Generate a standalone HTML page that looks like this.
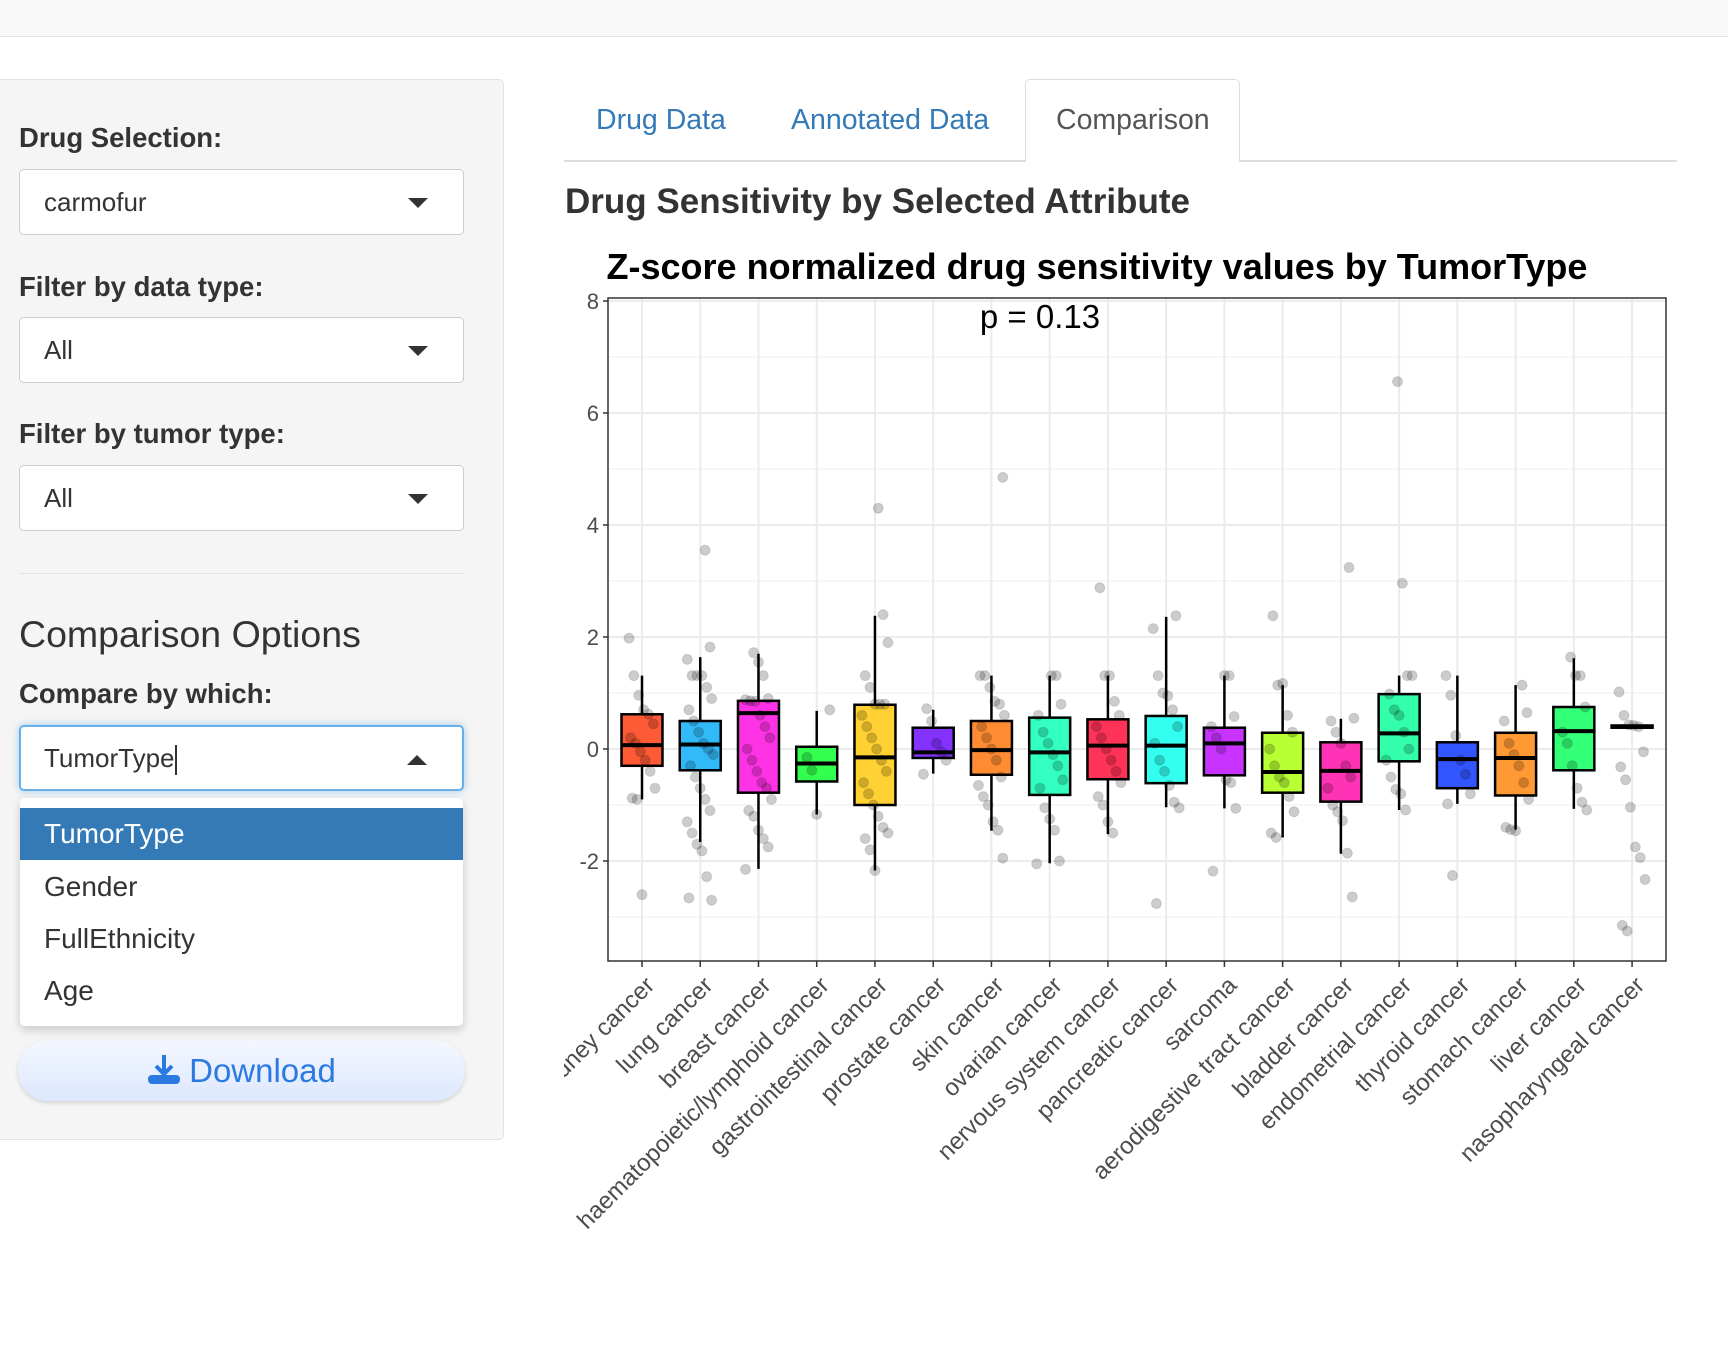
<!DOCTYPE html>
<html><head><meta charset="utf-8">
<style>
*{box-sizing:border-box;margin:0;padding:0}
body{width:1728px;height:1352px;background:#fff;font-family:"Liberation Sans",sans-serif;color:#333;position:relative;overflow:hidden}
.abs{position:absolute}
.topbar{left:0;top:0;width:1728px;height:37px;background:#f8f8f8;border-bottom:1px solid #e3e3e3}
.sidebar{left:-4px;top:79px;width:508px;height:1061px;background:#f5f5f5;border:1px solid #e3e3e3;border-radius:5px}
.lbl{font-weight:bold;font-size:27.5px;color:#333;left:19px}
.sel{left:19px;width:445px;height:66px;background:#fff;border:1px solid #ccc;border-radius:5px;font-size:26px;padding-left:24px;line-height:64px;color:#333}
.caret{position:absolute;right:35px;top:28px;width:0;height:0;border-left:10px solid transparent;border-right:10px solid transparent;border-top:10px solid #333}
.caretup{position:absolute;right:35px;top:28px;width:0;height:0;border-left:10px solid transparent;border-right:10px solid transparent;border-bottom:10px solid #333}
.opt{left:20px;width:443px;height:52px;font-size:28px;padding-left:24px;line-height:52px;color:#333}
.tab{top:104px;font-size:28.5px;color:#337ab7}
</style></head><body>
<div class="abs topbar"></div>
<div class="abs sidebar"></div>
<div class="abs lbl" style="top:122px">Drug Selection:</div>
<div class="abs sel" style="top:169px">carmofur<span class="caret"></span></div>
<div class="abs lbl" style="top:271px">Filter by data type:</div>
<div class="abs sel" style="top:317px">All<span class="caret"></span></div>
<div class="abs lbl" style="top:418px">Filter by tumor type:</div>
<div class="abs sel" style="top:465px">All<span class="caret"></span></div>
<div class="abs" style="left:19px;top:573px;width:445px;height:1px;background:#e3e3e3"></div>
<div class="abs" style="left:19px;top:613px;font-size:37.5px;color:#333">Comparison Options</div>
<div class="abs lbl" style="top:678px">Compare by which:</div>
<div class="abs sel" style="top:725px;border:2px solid #66afe9;box-shadow:0 0 8px rgba(102,175,233,.6);padding-left:23px;line-height:62px">TumorType<span style="display:inline-block;width:2px;height:30px;background:#333;vertical-align:middle"></span><span class="caretup"></span></div>
<div class="abs" style="left:20px;top:798px;width:443px;height:228px;background:#fff;border-radius:5px;box-shadow:0 4px 10px rgba(0,0,0,.18)"></div>
<div class="abs opt" style="top:808px;background:#337ab7;color:#fff">TumorType</div>
<div class="abs opt" style="top:861px">Gender</div>
<div class="abs opt" style="top:913px">FullEthnicity</div>
<div class="abs opt" style="top:965px">Age</div>
<div class="abs" style="left:18px;top:1040px;width:447px;height:61px;border-radius:31px;background:linear-gradient(#f4f7ff,#dde8fd);box-shadow:0 2px 4px rgba(0,0,0,.15);text-align:center;font-size:33px;line-height:61px;color:#2a7ae2"><svg width="34" height="32" viewBox="0 0 34 32" style="vertical-align:-3px;margin-right:8px"><path d="M17 2v18M9 13l8 8 8-8" stroke="#2a7ae2" stroke-width="4" fill="none"/><rect x="1" y="22" width="32" height="9" rx="4" fill="#2a7ae2"/></svg>Download</div>

<div class="abs" style="left:564px;top:160px;width:1113px;height:2px;background:#ddd"></div>
<div class="abs" style="left:1025px;top:79px;width:215px;height:83px;background:#fff;border:1px solid #ddd;border-bottom:none;border-radius:5px 5px 0 0"></div>
<div class="abs tab" style="left:596px">Drug Data</div>
<div class="abs tab" style="left:791px">Annotated Data</div>
<div class="abs tab" style="left:1056px;color:#555">Comparison</div>
<div class="abs" style="left:565px;top:182px;font-size:35px;font-weight:bold;color:#333">Drug Sensitivity by Selected Attribute</div>

<svg class="abs" style="left:564px;top:220px" width="1164" height="1132" viewBox="564 220 1164 1132" id="chart"></svg>
<script>
const categories=["kidney cancer","lung cancer","breast cancer","haematopoietic/lymphoid cancer","gastrointestinal cancer","prostate cancer","skin cancer","ovarian cancer","nervous system cancer","pancreatic cancer","sarcoma","aerodigestive tract cancer","bladder cancer","endometrial cancer","thyroid cancer","stomach cancer","liver cancer","nasopharyngeal cancer"];
const q1=[-0.3,-0.38,-0.78,-0.58,-1.0,-0.16,-0.46,-0.82,-0.54,-0.61,-0.47,-0.78,-0.94,-0.22,-0.7,-0.83,-0.38,0.38];
const medians=[0.07,0.08,0.64,-0.26,-0.15,-0.06,-0.02,-0.06,0.06,0.06,0.1,-0.41,-0.39,0.28,-0.18,-0.16,0.32,0.4];
const q3=[0.62,0.5,0.86,0.04,0.79,0.38,0.5,0.56,0.53,0.59,0.38,0.29,0.12,0.98,0.12,0.29,0.75,0.42];
const whiskerLow=[-0.9,-1.66,-2.14,-1.17,-2.17,-0.44,-1.46,-2.04,-1.52,-1.04,-1.06,-1.58,-1.87,-1.09,-0.98,-1.44,-1.07,0.38];
const whiskerHigh=[1.31,1.64,1.7,0.68,2.38,0.7,1.31,1.31,1.31,2.36,1.31,1.14,0.54,1.31,1.31,1.14,1.62,0.42];
const fills=["#fe5a36","#32b9f8","#ff33e6","#33ff4f","#ffd133","#8433ff","#ff8c33","#33ffc1","#ff3358","#33fff0","#c833ff","#b8ff33","#ff33b5","#33ffaa","#3355ff","#ff9933","#33ff77","#222222"];
const points=[
[1.98,1.31,0.96,0.7,0.62,0.45,0.2,0.1,-0.05,-0.2,-0.4,-0.7,-0.88,-0.9,-2.6],
[3.55,1.82,1.6,1.31,1.31,1.31,1.1,0.9,0.7,0.5,0.3,0.1,0,-0.1,-0.3,-0.5,-0.7,-0.9,-1.1,-1.3,-1.5,-1.7,-1.82,-2.28,-2.7,-2.66],
[1.72,1.55,1.31,0.9,0.88,0.86,0.85,0.6,0.4,0.2,0,-0.2,-0.4,-0.6,-0.7,-0.9,-1.1,-1.2,-1.45,-1.6,-1.75,-2.15],
[0.7,-0.15,-0.38,-1.17],
[4.3,2.4,1.9,1.31,1.1,0.8,0.8,0.8,0.6,0.4,0.2,0,-0.2,-0.4,-0.6,-0.8,-1.0,-1.2,-1.4,-1.5,-1.6,-1.8,-2.17],
[0.72,0.5,0.1,-0.05,-0.2,-0.45],
[4.85,1.31,1.31,1.1,0.85,0.8,0.6,0.4,0.2,0,-0.2,-0.5,-0.65,-0.85,-1.0,-1.3,-1.45,-1.95],
[1.31,1.31,0.8,0.6,0.3,0.1,-0.1,-0.3,-0.55,-0.7,-1.05,-1.25,-1.45,-2.0,-2.05],
[2.88,1.31,1.31,0.85,0.6,0.4,0.2,0,-0.2,-0.4,-0.6,-0.85,-1.0,-1.3,-1.5],
[2.38,2.15,1.31,1.0,0.95,0.7,0.4,0.1,-0.2,-0.4,-0.65,-0.95,-1.05,-2.76],
[1.31,1.31,0.58,0.4,0.2,0,-0.55,-0.6,-1.06,-2.18],
[2.38,1.14,1.17,0.6,0.3,0.0,-0.3,-0.5,-0.6,-0.85,-1.12,-1.5,-1.58],
[3.24,0.55,0.5,0.3,0.1,-0.3,-0.5,-0.7,-1.0,-1.12,-1.28,-1.86,-2.64],
[6.56,2.96,1.31,1.31,0.98,0.7,0.6,0.3,0,-0.2,-0.5,-0.72,-0.8,-1.09],
[1.31,0.96,0.24,-0.2,-0.45,-0.8,-0.98,-2.26],
[1.14,0.65,0.5,0.1,-0.1,-0.3,-0.6,-0.9,-1.4,-1.44,-1.46],
[1.64,1.31,1.31,0.75,0.3,0.1,-0.3,-0.7,-0.95,-1.09],
[1.02,0.6,0.43,0.42,0.4,-0.05,-0.32,-0.55,-1.04,-1.75,-1.94,-2.33,-3.15,-3.25]];
const yTicks=[-2,0,2,4,6,8];
const yMinor=[-3,-1,1,3,5,7];
const titleText="Z-score normalized drug sensitivity values by TumorType";
const pText="p = 0.13";

const NS="http://www.w3.org/2000/svg";
const svg=document.getElementById('chart');
const P={l:608,r:1666,t:298,b:961};
const Y0=749,YU=56;
function yScale(v){return Y0-YU*v;}
function xScale(i){return 642+i*58.24;}
function mk(tag,attrs){const e=document.createElementNS(NS,tag);for(const k in attrs)e.setAttribute(k,attrs[k]);svg.appendChild(e);return e;}

let e=mk('rect',{x:P.l,y:P.t,width:P.r-P.l,height:P.b-P.t,fill:'#fff'});


yMinor.forEach(v=>{const g=mk('line',{x1:P.l,x2:P.r,y1:yScale(v),y2:yScale(v),stroke:'#f4f4f4','stroke-width':1.5});

});
yTicks.forEach(v=>{const g=mk('line',{x1:P.l,x2:P.r,y1:yScale(v),y2:yScale(v),stroke:'#ebebeb','stroke-width':2});


const tk=mk('line',{x1:P.l-5,x2:P.l,y1:yScale(v),y2:yScale(v),stroke:'#333','stroke-width':1.5});


const t=mk('text',{x:P.l-9,y:yScale(v)+8,'text-anchor':'end','font-size':22,fill:'#4d4d4d','font-family':'Liberation Sans, sans-serif'});
t.textContent=v;

});
categories.forEach((c,i)=>{const g=mk('line',{x1:xScale(i),x2:xScale(i),y1:P.t,y2:P.b,stroke:'#ebebeb','stroke-width':2});

});

const bw=41;
categories.forEach((c,i)=>{
 const x=xScale(i);
 const w=mk('line',{x1:x,x2:x,y1:yScale(whiskerHigh[i]),y2:yScale(whiskerLow[i]),stroke:'#000','stroke-width':2.5});
 
 
 const b=mk('rect',{x:x-bw/2,y:yScale(q3[i]),width:bw,height:Math.max(1,yScale(q1[i])-yScale(q3[i])),fill:fills[i],stroke:'#000','stroke-width':2.5});
 
 
 const m=mk('line',{x1:x-bw/2,x2:x+bw/2,y1:yScale(medians[i]),y2:yScale(medians[i]),stroke:'#000','stroke-width':4});
 
 
});
points.forEach((arr,i)=>{arr.forEach((v,j)=>{
 const jit=(((j*37+i*11)%17)/16-0.5)*26;
 const p=mk('circle',{cx:xScale(i)+jit,cy:yScale(v),r:5,fill:'rgba(0,0,0,0.2)',stroke:'rgba(0,0,0,0.12)'});
 
 
});});

e=mk('rect',{x:P.l,y:P.t,width:P.r-P.l,height:P.b-P.t,fill:'none',stroke:'#333','stroke-width':1.5});


categories.forEach((c,i)=>{const x=xScale(i);
 const tk=mk('line',{x1:x,x2:x,y1:P.b,y2:P.b+6,stroke:'#333','stroke-width':1.5});
 
 
 const t=mk('text',{transform:`translate(${x+1},${P.b+13}) rotate(-45)`,'text-anchor':'end',dy:'0.75em','font-size':24,fill:'#4d4d4d','font-family':'Liberation Sans, sans-serif'});
 t.textContent=c;
 
 
});
e=mk('text',{x:1097,y:279,'text-anchor':'middle','font-size':36,'font-weight':'bold',fill:'#000','font-family':'Liberation Sans, sans-serif'});
e.textContent=titleText;


e=mk('text',{x:1040,y:328,'text-anchor':'middle','font-size':33,fill:'#000','font-family':'Liberation Sans, sans-serif'});
e.textContent=pText;


</script>
</body></html>
